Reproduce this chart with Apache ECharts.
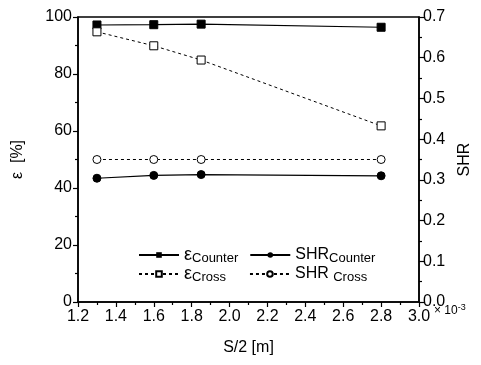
<!DOCTYPE html>
<html>
<head>
<meta charset="utf-8">
<script src="https://cdn.jsdelivr.net/npm/echarts@6/dist/echarts.min.js"></script>
<style>
  html, body { margin: 0; padding: 0; background: #fff; }
  #chart { width: 481px; height: 365px; }
</style>
</head>
<body>
<div id="chart"></div>
<script>
// S/2 in units of 1e-3 m
const halfSpacing = [1.3, 1.6, 1.85, 2.8];
const epsCounter = [97.2, 97.3, 97.5, 96.4];
const epsCross = [94.8, 89.9, 84.9, 61.8];
const shrCounter = [0.304, 0.311, 0.313, 0.310];
const shrCross = [0.35, 0.35, 0.35, 0.35];

const font = 'Liberation Sans, Arial, sans-serif';

function pairs(ys) {
  return halfSpacing.map((x, i) => [x, ys[i]]);
}

const legendRich = {
  e: { fontFamily: font, fontSize: 18, color: '#000' },
  s: { fontFamily: font, fontSize: 16, color: '#000' },
  sub: { fontFamily: font, fontSize: 13, color: '#000', padding: [7, 0, 0, 0] }
};

function legendLabel(name) {
  if (name === 'epsCounter') return '{e|ε}{sub|Counter}';
  if (name === 'epsCross') return '{e|ε}{sub|Cross}';
  if (name === 'shrCounter') return '{s|SHR}{sub|Counter}';
  return '{s|SHR }{sub|Cross}';
}

const chart = echarts.init(document.getElementById('chart'));

const axisLine = { show: true, lineStyle: { color: '#000', width: 1.5 } };
const tick = { show: true, inside: false, length: 5, lineStyle: { color: '#000', width: 1.2 } };
const minor = { show: true, splitNumber: 2, length: 3, lineStyle: { color: '#000', width: 1.2 } };

const option = {
  animation: false,
  backgroundColor: '#fff',
  grid: {
    left: 78,
    right: 62,
    top: 17,
    bottom: 63,
    show: true,
    borderColor: '#000',
    borderWidth: 1.5
  },
  legend: [
    {
      data: ['epsCounter', 'shrCounter'],
      left: 133,
      top: 241,
      itemWidth: 40,
      itemHeight: 7,
      itemGap: 11,
      formatter: legendLabel,
      textStyle: { rich: legendRich }
    },
    {
      data: ['epsCross', 'shrCross'],
      left: 133,
      top: 260,
      itemWidth: 40,
      itemHeight: 7,
      itemGap: 23,
      formatter: legendLabel,
      textStyle: { rich: legendRich }
    }
  ],
  xAxis: {
    type: 'value',
    min: 1.2,
    max: 3.0,
    interval: 0.2,
    name: 'S/2 [m]',
    nameLocation: 'middle',
    nameGap: 38,
    nameTextStyle: { fontFamily: font, fontSize: 16, color: '#000' },
    axisLine: axisLine,
    axisTick: tick,
    minorTick: minor,
    splitLine: { show: false },
    axisLabel: {
      fontFamily: font, fontSize: 16, color: '#000', margin: 7,
      formatter: v => v.toFixed(1)
    }
  },
  yAxis: [
    {
      type: 'value',
      min: 0,
      max: 100,
      interval: 20,
      name: 'ε  [%]',
      nameLocation: 'middle',
      nameGap: 52,
      nameTextStyle: { fontFamily: font, fontSize: 16, color: '#000' },
      axisLine: axisLine,
      axisTick: tick,
      minorTick: minor,
      splitLine: { show: false },
      axisLabel: { fontFamily: font, fontSize: 16, color: '#000', margin: 6 }
    },
    {
      type: 'value',
      min: 0,
      max: 0.7,
      interval: 0.1,
      position: 'right',
      name: 'SHR',
      nameLocation: 'middle',
      nameGap: 38,
      nameRotate: 90,
      nameTextStyle: { fontFamily: font, fontSize: 16, color: '#000' },
      axisLine: axisLine,
      axisTick: tick,
      minorTick: minor,
      splitLine: { show: false },
      axisLabel: {
        fontFamily: font, fontSize: 16, color: '#000', margin: 4,
        formatter: v => v.toFixed(1)
      }
    }
  ],
  graphic: [
    {
      type: 'text',
      left: 434,
      top: 303,
      style: {
        text: '{m|×} 10{p|-3}',
        fill: '#000',
        rich: {
          m: { fontFamily: font, fontSize: 12, fill: '#000' },
          p: { fontFamily: font, fontSize: 9, fill: '#000', padding: [0, 0, 6, 0] }
        },
        fontFamily: font,
        fontSize: 12
      }
    }
  ],
  series: [
    {
      name: 'epsCounter',
      type: 'line',
      yAxisIndex: 0,
      data: pairs(epsCounter),
      symbol: 'rect',
      symbolSize: 8,
      lineStyle: { color: '#000', width: 1.2 },
      itemStyle: { color: '#000', borderColor: '#000' }
    },
    {
      name: 'epsCross',
      type: 'line',
      yAxisIndex: 0,
      data: pairs(epsCross),
      symbol: 'rect',
      symbolSize: 8,
      lineStyle: { color: '#000', width: 1, type: [3, 3] },
      itemStyle: { color: '#fff', borderColor: '#000', borderWidth: 1 }
    },
    {
      name: 'shrCounter',
      type: 'line',
      yAxisIndex: 1,
      data: pairs(shrCounter),
      symbol: 'circle',
      symbolSize: 8,
      lineStyle: { color: '#000', width: 1.2 },
      itemStyle: { color: '#000', borderColor: '#000' }
    },
    {
      name: 'shrCross',
      type: 'line',
      yAxisIndex: 1,
      data: pairs(shrCross),
      symbol: 'circle',
      symbolSize: 8,
      lineStyle: { color: '#000', width: 1, type: [3, 3] },
      itemStyle: { color: '#fff', borderColor: '#000', borderWidth: 1 }
    }
  ]
};

chart.setOption(option);
</script>
</body>
</html>
